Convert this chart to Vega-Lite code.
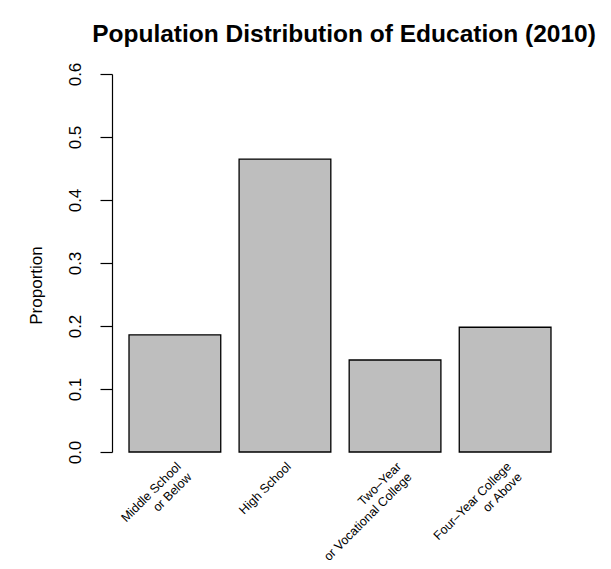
{
  "$schema": "https://vega.github.io/schema/vega-lite/v6.json",
  "width": 456,
  "height": 378,
  "autosize": "none",
  "padding": {"left": 112, "top": 74, "right": 43, "bottom": 117},
  "background": "white",
  "config": {"view": {"stroke": null}, "font": "Liberation Sans"},
  "title": {
    "text": "Population Distribution of Education (2010)",
    "font": "Liberation Sans",
    "fontSize": 24.5,
    "fontWeight": "bold",
    "color": "black",
    "anchor": "middle",
    "frame": "group",
    "baseline": "alphabetic",
    "offset": -4,
    "dx": 4
  },
  "data": {
    "values": [
      {"label": "Middle School|or Below", "value": 0.186},
      {"label": "High School", "value": 0.465},
      {"label": "Two–Year|or Vocational College", "value": 0.146},
      {"label": "Four–Year College|or Above", "value": 0.198}
    ]
  },
  "mark": {"type": "bar", "fill": "#bebebe", "stroke": "black", "strokeWidth": 1.3},
  "encoding": {
    "x": {
      "field": "label",
      "type": "nominal",
      "sort": null,
      "scale": {"paddingInner": 0.1667, "paddingOuter": 0.1545},
      "axis": {
        "title": null,
        "domain": false,
        "ticks": false,
        "labelAngle": -45,
        "labelAlign": "right",
        "labelBaseline": "middle",
        "labelFontSize": 12.5,
        "labelColor": "black",
        "labelPadding": 12,
        "labelOffset": 4,
        "labelLineHeight": 15,
        "labelExpr": "split(datum.label, '|')"
      }
    },
    "y": {
      "field": "value",
      "type": "quantitative",
      "scale": {"domain": [0, 0.6], "nice": false, "zero": true},
      "axis": {
        "values": [0, 0.1, 0.2, 0.3, 0.4, 0.5, 0.6],
        "format": ".1f",
        "grid": false,
        "domainColor": "black",
        "domainWidth": 1.2,
        "tickColor": "black",
        "tickWidth": 1.2,
        "tickSize": 12,
        "labelAngle": -90,
        "labelAlign": "center",
        "labelBaseline": "alphabetic",
        "labelPadding": 20,
        "labelFontSize": 17,
        "labelColor": "black",
        "labelFlush": false,
        "labelOverlap": false,
        "title": "Proportion",
        "titleFontSize": 17,
        "titleFontWeight": "normal",
        "titleColor": "black",
        "titleAngle": 270,
        "titleAlign": "center",
        "titleBaseline": "middle",
        "titleX": -76,
        "titleY": 211
      }
    }
  }
}
